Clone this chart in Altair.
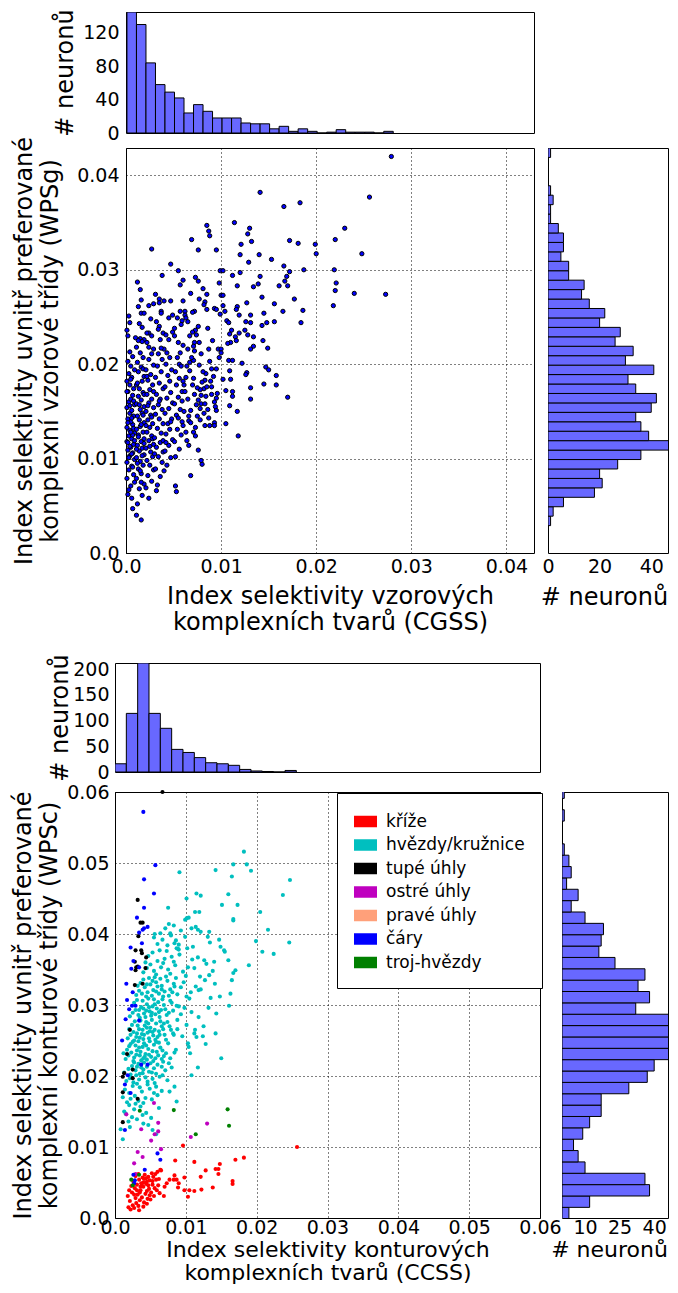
import altair as alt
import pandas as pd

FONT = "DejaVu Sans"
BAR_FILL = "#6868ff"

# ------------------------------------------------------------------ upper figure
# histogram of CGSS (x of upper scatter)
cgss_bin_start = 0.0001
cgss_bin_width = 0.001
cgss_counts = [145, 130, 84, 58, 49, 42, 24, 34, 26, 18, 18, 18, 12, 11, 11, 5, 8, 2,
               5, 2, 0, 1, 4, 1, 1, 1, 0, 2]
# histogram of WPSg (y of upper scatter), from bottom bin upwards
wpsg_bin_start = 0.0029
wpsg_bin_width = 0.001
wpsg_counts = [1, 2, 6, 18, 21, 20, 27, 36, 47, 39, 36, 34, 40, 42, 34, 31, 41, 30, 33,
               26, 28, 20, 22, 16, 13, 14, 8, 8, 5, 6, 6, 4, 1, 1, 2, 1, 0, 0, 0, 1]

# scatter points (CGSS, WPSg)
upper_outer = [(0.0279,0.0420),(0.0256,0.0377),(0.0141,0.0382),(0.0166,0.0367),(0.0183,0.0371),(0.0230,0.0344),(0.0220,0.0332),(0.0172,0.0331),(0.0181,0.0328),(0.0199,0.0327),(0.0200,0.0317),(0.0248,0.0317),(0.0140,0.0316),(0.0153,0.0311),(0.0166,0.0304),(0.0172,0.0298),(0.0187,0.0300),(0.0219,0.0300),(0.0141,0.0293),(0.0169,0.0293),(0.0167,0.0288),(0.0170,0.0283),(0.0161,0.0283),(0.0221,0.0286),(0.0220,0.0278),(0.0240,0.0275),(0.0273,0.0274),(0.0143,0.0271),(0.0177,0.0269),(0.0156,0.0264),(0.0218,0.0262),(0.0165,0.0256),(0.0186,0.0257),(0.0145,0.0254),(0.0156,0.0245),(0.0148,0.0244),(0.0143,0.0241),(0.0184,0.0244),(0.0144,0.0225),(0.0149,0.0217),(0.0147,0.0197),(0.0150,0.0194),(0.0158,0.0188),(0.0145,0.0179),(0.0158,0.0178),(0.0170,0.0165)]
upper_top = [(0.0085,0.0347),(0.0087,0.0341),(0.0088,0.0336),(0.0114,0.0350),(0.0130,0.0344),(0.0128,0.0338),(0.0132,0.0330),(0.0121,0.0327),(0.0069,0.0332),(0.0076,0.0321),(0.0027,0.0322),(0.0095,0.0321),(0.0120,0.0316),(0.0129,0.0308),(0.0047,0.0306),(0.0055,0.0299),(0.0099,0.0299),(0.0102,0.0299),(0.0038,0.0294),(0.0112,0.0294),(0.0120,0.0297),(0.0012,0.0287),(0.0060,0.0289),(0.0057,0.0284),(0.0073,0.0292),(0.0076,0.0288),(0.0098,0.0286),(0.0117,0.0283),(0.0134,0.0282),(0.0139,0.0285),(0.0015,0.0279),(0.0081,0.0280),(0.0031,0.0274),(0.0068,0.0275),(0.0085,0.0274),(0.0100,0.0273),(0.0102,0.0273),(0.0016,0.0268),(0.0035,0.0269),(0.0040,0.0267),(0.0047,0.0267),(0.0060,0.0267),(0.0077,0.0269),(0.0083,0.0266),(0.0082,0.0263),(0.0024,0.0262),(0.0029,0.0264),(0.0035,0.0265),(0.0127,0.0265),(0.0102,0.0262),(0.0117,0.0261),(0.0116,0.0258),(0.0093,0.0259),(0.0095,0.0258),(0.0085,0.0258),(0.0104,0.0256),(0.0037,0.0256),(0.0037,0.0254),(0.0057,0.0256),(0.0062,0.0256),(0.0062,0.0252),(0.0072,0.0256),(0.0070,0.0255),(0.0016,0.0254),(0.0019,0.0254),(0.0099,0.0253),(0.0049,0.0252),(0.0054,0.0249),(0.0119,0.0252),(0.0131,0.0252),(0.0003,0.0251),(0.0004,0.0244),(0.0063,0.0249),(0.0065,0.0245),(0.0106,0.0246),(0.0108,0.0244),(0.0059,0.0246),(0.0058,0.0242),(0.0014,0.0243),(0.0126,0.0245),(0.0131,0.0244),(0.0076,0.0240),(0.0035,0.0240),(0.0034,0.0237),(0.0086,0.0238),(0.0111,0.0236),(0.0109,0.0232),(0.0125,0.0236),(0.0128,0.0231),(0.0073,0.0236),(0.0070,0.0234),(0.0074,0.0231),(0.0039,0.0233),(0.0042,0.0231),(0.0051,0.0230),(0.0045,0.0226)]
upper_mid = [(0.0002,0.0230),(0.0010,0.0228),(0.0015,0.0227),(0.0019,0.0226),(0.0013,0.0225),(0.0017,0.0224),(0.0022,0.0223),(0.0024,0.0233),(0.0027,0.0230),(0.0024,0.0218),(0.0029,0.0216),(0.0115,0.0229),(0.0116,0.0225),(0.0119,0.0233),(0.0110,0.0223),(0.0107,0.0222),(0.0134,0.0229),(0.0134,0.0219),(0.0055,0.0223),(0.0060,0.0220),(0.0072,0.0223),(0.0071,0.0219),(0.0077,0.0223),(0.0087,0.0216),(0.0091,0.0225),(0.0097,0.0216),(0.0100,0.0216),(0.0065,0.0216),(0.0040,0.0216),(0.0037,0.0217),(0.0100,0.0212),(0.0131,0.0216),(0.0071,0.0204),(0.0067,0.0202),(0.0056,0.0200),(0.0108,0.0204),(0.0112,0.0204),(0.0122,0.0201),(0.0127,0.0191),(0.0126,0.0189),(0.0095,0.0195),(0.0109,0.0193),(0.0084,0.0190),(0.0083,0.0183),(0.0089,0.0182),(0.0090,0.0176),(0.0102,0.0184),(0.0110,0.0184),(0.0105,0.0172),(0.0112,0.0171),(0.0112,0.0166),(0.0131,0.0175),(0.0131,0.0163),(0.0072,0.0168),(0.0079,0.0167),(0.0084,0.0166),(0.0095,0.0164),(0.0090,0.0168),(0.0082,0.0174),(0.0078,0.0173),(0.0075,0.0175),(0.0061,0.0178),(0.0063,0.0186),(0.0060,0.0182),(0.0109,0.0156),(0.0117,0.0150),(0.0095,0.0151),(0.0093,0.0160),(0.0079,0.0158),(0.0078,0.0153),(0.0086,0.0152),(0.0082,0.0148),(0.0105,0.0137),(0.0093,0.0138),(0.0093,0.0135),(0.0088,0.0135),(0.0083,0.0135),(0.0078,0.0141),(0.0075,0.0145),(0.0066,0.0140),(0.0068,0.0138),(0.0060,0.0135),(0.0118,0.0124),(0.0076,0.0109),(0.0080,0.0094),(0.0079,0.0098),(0.0066,0.0114),(0.0071,0.0128),(0.0073,0.0124),(0.0068,0.0082),(0.0052,0.0071),(0.0053,0.0065),(0.0032,0.0066),(0.0040,0.0087),(0.0011,0.0040),(0.0016,0.0035),(0.0007,0.0047)]
upper_core_a = [(0.0002,0.0062),(0.0005,0.0071),(0.0001,0.0079),(0.0008,0.0083),(0.0003,0.0088),(0.0006,0.0092),(0.0001,0.0096),(0.0009,0.0099),(0.0004,0.0103),(0.0007,0.0106),(0.0002,0.0109),(0.0005,0.0112),(0.0008,0.0115),(0.0001,0.0118),(0.0006,0.0121),(0.0003,0.0124),(0.0009,0.0127),(0.0004,0.0130),(0.0001,0.0133),(0.0007,0.0136),(0.0005,0.0139),(0.0002,0.0142),(0.0008,0.0145),(0.0004,0.0148),(0.0006,0.0151),(0.0001,0.0154),(0.0009,0.0157),(0.0003,0.0160),(0.0005,0.0163),(0.0007,0.0167),(0.0002,0.0171),(0.0008,0.0174),(0.0004,0.0178),(0.0001,0.0182),(0.0006,0.0186),(0.0003,0.0190),(0.0009,0.0194),(0.0005,0.0198),(0.0002,0.0203),(0.0007,0.0208),(0.0004,0.0213),(0.0001,0.0236),(0.0006,0.0058),(0.0003,0.0067),(0.0009,0.0075),(0.0004,0.0113),(0.0007,0.0125),(0.0002,0.0138),(0.0008,0.0161),(0.0005,0.0184),(0.0003,0.0101),(0.0009,0.0119),(0.0006,0.0143),(0.0001,0.0171),(0.0007,0.0091),(0.0004,0.0156),(0.0008,0.0132),(0.0002,0.0117),(0.0005,0.0128),(0.0006,0.0105)]
upper_core_b = [(0.0012,0.0052),(0.0017,0.0061),(0.0014,0.0068),(0.0019,0.0073),(0.0011,0.0079),(0.0016,0.0084),(0.0013,0.0089),(0.0018,0.0093),(0.0015,0.0097),(0.0011,0.0101),(0.0019,0.0104),(0.0014,0.0108),(0.0017,0.0111),(0.0012,0.0114),(0.0016,0.0118),(0.0019,0.0121),(0.0013,0.0125),(0.0018,0.0128),(0.0011,0.0131),(0.0015,0.0134),(0.0019,0.0138),(0.0014,0.0141),(0.0012,0.0145),(0.0017,0.0148),(0.0015,0.0152),(0.0019,0.0155),(0.0011,0.0158),(0.0016,0.0162),(0.0013,0.0166),(0.0018,0.0170),(0.0014,0.0174),(0.0011,0.0178),(0.0017,0.0182),(0.0019,0.0187),(0.0013,0.0192),(0.0016,0.0197),(0.0012,0.0202),(0.0018,0.0207),(0.0015,0.0212),(0.0011,0.0218),(0.0017,0.0239),(0.0013,0.0261),(0.0019,0.0116),(0.0012,0.0095),(0.0016,0.0136),(0.0014,0.0157),(0.0018,0.0146),(0.0011,0.0110),(0.0019,0.0168),(0.0015,0.0087),(0.0013,0.0123),(0.0017,0.0103),(0.0012,0.0180),(0.0016,0.0075),(0.0018,0.0195)]
upper_core_c = [(0.0024,0.0058),(0.0021,0.0069),(0.0027,0.0076),(0.0023,0.0082),(0.0029,0.0088),(0.0025,0.0093),(0.0022,0.0098),(0.0028,0.0102),(0.0026,0.0107),(0.0021,0.0111),(0.0029,0.0115),(0.0024,0.0119),(0.0027,0.0124),(0.0022,0.0128),(0.0025,0.0133),(0.0028,0.0137),(0.0023,0.0141),(0.0026,0.0146),(0.0021,0.0150),(0.0029,0.0154),(0.0024,0.0159),(0.0027,0.0163),(0.0022,0.0168),(0.0025,0.0173),(0.0028,0.0178),(0.0023,0.0183),(0.0026,0.0189),(0.0021,0.0194),(0.0029,0.0199),(0.0024,0.0205),(0.0027,0.0211),(0.0022,0.0233),(0.0026,0.0248),(0.0028,0.0121),(0.0023,0.0156),(0.0021,0.0135),(0.0027,0.0144),(0.0025,0.0113),(0.0029,0.0171),(0.0022,0.0187),
                (0.0033,0.0072),(0.0036,0.0081),(0.0031,0.0089),(0.0038,0.0096),(0.0034,0.0102),(0.0039,0.0107),(0.0032,0.0112),(0.0036,0.0117),(0.0030,0.0122),(0.0037,0.0127),(0.0033,0.0132),(0.0039,0.0137),(0.0035,0.0142),(0.0031,0.0147),(0.0038,0.0152),(0.0034,0.0157),(0.0036,0.0163),(0.0032,0.0168),(0.0039,0.0174),(0.0035,0.0180),(0.0031,0.0186),(0.0037,0.0192),(0.0033,0.0198),(0.0038,0.0205),(0.0034,0.0211),(0.0036,0.0226),(0.0032,0.0245),(0.0039,0.0119),(0.0035,0.0161),(0.0030,0.0105)]
upper_core_d = [(0.0043,0.0093),(0.0047,0.0101),(0.0041,0.0108),(0.0045,0.0114),(0.0049,0.0120),(0.0042,0.0126),(0.0046,0.0131),(0.0044,0.0137),(0.0048,0.0142),(0.0041,0.0148),(0.0045,0.0153),(0.0049,0.0159),(0.0043,0.0164),(0.0047,0.0170),(0.0041,0.0176),(0.0046,0.0182),(0.0044,0.0188),(0.0048,0.0194),(0.0042,0.0200),(0.0046,0.0207),(0.0043,0.0212),(0.0049,0.0234),(0.0045,0.0249),(0.0047,0.0139),(0.0042,0.0117),
                (0.0052,0.0102),(0.0056,0.0110),(0.0051,0.0118),(0.0058,0.0125),(0.0054,0.0131),(0.0059,0.0139),(0.0053,0.0146),(0.0057,0.0152),(0.0051,0.0158),(0.0055,0.0165),(0.0059,0.0171),(0.0053,0.0178),(0.0056,0.0185),(0.0052,0.0192),(0.0058,0.0198),(0.0054,0.0207),(0.0057,0.0212),(0.0051,0.0238),(0.0055,0.0143),(0.0059,0.0161),
                (0.0063,0.0128),(0.0068,0.0151),(0.0065,0.0163),(0.0071,0.0185),(0.0067,0.0193),(0.0074,0.0157),(0.0062,0.0171),(0.0069,0.0207),(0.0077,0.0199),(0.0081,0.0192),(0.0066,0.0145),(0.0073,0.0133),(0.0085,0.0176),(0.0088,0.0203),(0.0092,0.0187),(0.0079,0.0211),(0.0064,0.0198),(0.0096,0.0169),(0.0061,0.0150),(0.0070,0.0178),(0.0076,0.0162),(0.0083,0.0158),(0.0090,0.0195),(0.0098,0.0207),(0.0064,0.0119),(0.0087,0.0143),(0.0072,0.0214),(0.0094,0.0155),(0.0080,0.0181),(0.0067,0.0230)]

# ------------------------------------------------------------------ lower figure
ccss_bin_start = 0.0
ccss_bin_width = 0.0016
ccss_counts = [16, 114, 212, 114, 85, 44, 38, 28, 18, 16, 13, 5, 2, 1, 0, 3]
wpsc_bin_start = -0.0001
wpsc_bin_width = 0.0016
wpsc_counts = [3, 12, 38, 36, 10, 7, 5, 9, 12, 17, 17, 29, 37, 40, 47, 48, 47, 48, 32, 38,
               33, 36, 23, 16, 17, 18, 10, 4, 7, 2, 4, 3, 1, 0, 0, 1, 0, 1]

categories = ["kříže", "hvězdy/kružnice", "tupé úhly", "ostré úhly", "pravé úhly", "čáry", "troj-hvězdy"]
cat_colors = ["#ff0000", "#00bfbf", "#000000", "#bf00bf", "#ffa07a", "#0000ff", "#008000"]

krize = [(0.0257,0.0100),(0.0182,0.0085),(0.0170,0.0082),(0.0166,0.0052),(0.0166,0.0048),(0.0148,0.0076),(0.0146,0.0069),(0.0142,0.0069),(0.0146,0.0062),(0.0128,0.0067),(0.0138,0.0043),(0.0121,0.0058),(0.0122,0.0040),(0.0112,0.0079),(0.0112,0.0038),(0.0098,0.0057),(0.0098,0.0039),(0.0103,0.0030),(0.0105,0.0039),(0.0085,0.0081),(0.0084,0.0060),(0.0083,0.0054),(0.0087,0.0054),(0.0090,0.0049),(0.0089,0.0043),(0.0077,0.0054),(0.0073,0.0049),(0.0070,0.0044),(0.0064,0.0068),(0.0060,0.0065),(0.0069,0.0031),(0.0096,0.0102),
         (0.0019,0.0015),(0.0022,0.0012),(0.0025,0.0018),(0.0021,0.0024),(0.0027,0.0014),(0.0030,0.0021),(0.0018,0.0031),(0.0024,0.0036),(0.0029,0.0028),(0.0033,0.0017),(0.0035,0.0025),(0.0032,0.0033),(0.0038,0.0029),(0.0036,0.0039),(0.0041,0.0022),(0.0043,0.0034),(0.0040,0.0044),(0.0046,0.0027),(0.0048,0.0041),(0.0045,0.0051),(0.0051,0.0036),(0.0053,0.0047),(0.0050,0.0026),(0.0056,0.0042),(0.0058,0.0054),(0.0055,0.0031),(0.0061,0.0046),(0.0063,0.0035),(0.0028,0.0042),(0.0031,0.0047),(0.0026,0.0051),(0.0034,0.0054),(0.0037,0.0049),(0.0039,0.0057),(0.0042,0.0061),(0.0044,0.0048),(0.0047,0.0058),(0.0049,0.0053),(0.0052,0.0063),(0.0054,0.0058),(0.0023,0.0045),(0.0020,0.0039),(0.0029,0.0059),(0.0033,0.0062),(0.0036,0.0044),(0.0040,0.0050),(0.0045,0.0038),(0.0049,0.0032),(0.0057,0.0062),(0.0059,0.0039),(0.0035,0.0036),(0.0041,0.0055),(0.0038,0.0046),(0.0044,0.0056),(0.0031,0.0039),(0.0027,0.0033),(0.0047,0.0046),(0.0053,0.0052),(0.0062,0.0055),(0.0065,0.0067),(0.0034,0.0011),(0.0040,0.0016),(0.0045,0.0020)]
hvezdy_outer = [(0.0182,0.0516),(0.0186,0.0498),(0.0192,0.0489),(0.0167,0.0498),(0.0165,0.0481),(0.0173,0.0441),(0.0167,0.0421),(0.0167,0.0419),(0.0091,0.0487),(0.0142,0.0490),(0.0247,0.0476),(0.0237,0.0455),(0.0246,0.0388),(0.0205,0.0431),(0.0216,0.0406),(0.0199,0.0390),(0.0208,0.0375),(0.0224,0.0372),(0.0189,0.0356),(0.0101,0.0450),(0.0115,0.0457),(0.0121,0.0454),(0.0160,0.0456),(0.0151,0.0441),(0.0104,0.0423),(0.0099,0.0420),(0.0113,0.0431),(0.0119,0.0431),(0.0075,0.0437),(0.0056,0.0400),(0.0076,0.0414),(0.0078,0.0401),(0.0084,0.0387),(0.0090,0.0378),(0.0087,0.0380),(0.0101,0.0422),(0.0108,0.0408),(0.0114,0.0410),(0.0117,0.0406),(0.0121,0.0403),(0.0133,0.0403),(0.0131,0.0396),(0.0134,0.0388),(0.0147,0.0392),(0.0149,0.0382),(0.0154,0.0377),(0.0155,0.0375),(0.0160,0.0363),(0.0167,0.0345),(0.0170,0.0349),(0.0165,0.0335),(0.0163,0.0316),(0.0161,0.0299),(0.0143,0.0288),(0.0142,0.0260),(0.0150,0.0225),(0.0124,0.0256),(0.0115,0.0255),(0.0112,0.0260),(0.0101,0.0272),(0.0103,0.0246),(0.0104,0.0241),(0.0108,0.0201),(0.0101,0.0312),(0.0105,0.0309),(0.0114,0.0326),(0.0118,0.0321),(0.0121,0.0322),(0.0127,0.0335),(0.0133,0.0342),(0.0138,0.0348),(0.0140,0.0361),(0.0126,0.0363),(0.0117,0.0367),(0.0110,0.0382),(0.0102,0.0380),(0.0084,0.0326),(0.0090,0.0298),(0.0088,0.0279),(0.0082,0.0260),(0.0095,0.0256),(0.0086,0.0237),(0.0076,0.0218),(0.0067,0.0201),(0.0084,0.0185),(0.0087,0.0164),(0.0077,0.0178),(0.0060,0.0173),(0.0053,0.0124),(0.0058,0.0118),(0.0040,0.0133),(0.0008,0.0125),(0.0011,0.0111),(0.0015,0.0147),(0.0020,0.0159),
                (0.0118,0.0283),(0.0125,0.0270),(0.0132,0.0296),(0.0108,0.0290),(0.0113,0.0265),(0.0128,0.0245),(0.0135,0.0310),(0.0107,0.0318),(0.0120,0.0340),(0.0112,0.0352),(0.0129,0.0358),(0.0141,0.0330),(0.0148,0.0312),(0.0106,0.0232),(0.0117,0.0212)]
hvezdy_low = [(0.0019,0.0136),(0.0024,0.0142),(0.0031,0.0139),(0.0044,0.0148),(0.0051,0.0141),(0.0027,0.0153),(0.0036,0.0157),(0.0013,0.0150),(0.0062,0.0155),(0.0047,0.0131),(0.0021,0.0128),(0.0039,0.0145),
              (0.0017,0.0163),(0.0022,0.0168),(0.0028,0.0172),(0.0033,0.0165),(0.0038,0.0178),(0.0043,0.0169),(0.0049,0.0182),(0.0055,0.0176),(0.0014,0.0181),(0.0025,0.0186),(0.0031,0.0189),(0.0046,0.0188),(0.0058,0.0185),(0.0066,0.0179),(0.0035,0.0184),(0.0020,0.0176),(0.0040,0.0162),(0.0052,0.0167),(0.0029,0.0161),(0.0011,0.0170),
              (0.0016,0.0193),(0.0021,0.0197),(0.0026,0.0191),(0.0030,0.0201),(0.0034,0.0195),(0.0039,0.0204),(0.0043,0.0198),(0.0048,0.0206),(0.0053,0.0196),(0.0058,0.0203),(0.0063,0.0199),(0.0071,0.0208),(0.0019,0.0210),(0.0024,0.0214),(0.0029,0.0208),(0.0033,0.0217),(0.0037,0.0212),(0.0041,0.0219),(0.0045,0.0213),(0.0050,0.0218),(0.0055,0.0211),(0.0060,0.0216),(0.0066,0.0213),(0.0074,0.0194),(0.0013,0.0205),(0.0027,0.0219),(0.0035,0.0203),(0.0046,0.0192),(0.0056,0.0190),(0.0040,0.0209),(0.0022,0.0202),(0.0031,0.0213),(0.0052,0.0205),(0.0068,0.0220),(0.0080,0.0212)]
hvezdy_mid = [(0.0015,0.0224),(0.0019,0.0229),(0.0023,0.0233),(0.0027,0.0226),(0.0031,0.0236),(0.0035,0.0229),(0.0039,0.0241),(0.0043,0.0231),(0.0047,0.0238),(0.0051,0.0227),(0.0055,0.0244),(0.0059,0.0234),(0.0064,0.0240),(0.0069,0.0228),(0.0075,0.0246),(0.0020,0.0242),(0.0025,0.0248),(0.0029,0.0243),(0.0033,0.0249),(0.0037,0.0222),(0.0041,0.0246),(0.0045,0.0223),(0.0049,0.0249),(0.0053,0.0235),(0.0057,0.0225),(0.0062,0.0247),(0.0067,0.0236),(0.0072,0.0232),(0.0078,0.0225),(0.0017,0.0237),(0.0026,0.0221),(0.0034,0.0240),(0.0042,0.0227),(0.0048,0.0230),(0.0054,0.0221),(0.0061,0.0229),(0.0036,0.0234),(0.0044,0.0243),(0.0030,0.0230),(0.0022,0.0245),(0.0058,0.0248),(0.0066,0.0224),(0.0084,0.0233),(0.0012,0.0232),(0.0040,0.0225),
              (0.0018,0.0253),(0.0022,0.0258),(0.0026,0.0262),(0.0030,0.0255),(0.0034,0.0266),(0.0038,0.0259),(0.0042,0.0271),(0.0046,0.0261),(0.0050,0.0268),(0.0054,0.0257),(0.0058,0.0274),(0.0062,0.0263),(0.0066,0.0270),(0.0070,0.0258),(0.0074,0.0276),(0.0079,0.0265),(0.0024,0.0272),(0.0028,0.0277),(0.0032,0.0271),(0.0036,0.0278),(0.0040,0.0252),(0.0044,0.0276),(0.0048,0.0253),(0.0052,0.0279),(0.0056,0.0265),(0.0060,0.0255),(0.0064,0.0277),(0.0068,0.0266),(0.0072,0.0251),(0.0077,0.0270),(0.0083,0.0258),(0.0088,0.0266),(0.0020,0.0266),(0.0035,0.0254),(0.0045,0.0268),(0.0053,0.0262),(0.0039,0.0265),(0.0047,0.0274),(0.0057,0.0251),(0.0063,0.0258),(0.0031,0.0260),(0.0041,0.0258),(0.0049,0.0263),(0.0027,0.0250),(0.0069,0.0274)]
hvezdy_high = [(0.0021,0.0284),(0.0025,0.0289),(0.0029,0.0293),(0.0033,0.0286),(0.0037,0.0297),(0.0041,0.0288),(0.0045,0.0301),(0.0049,0.0291),(0.0053,0.0298),(0.0057,0.0287),(0.0061,0.0304),(0.0065,0.0293),(0.0069,0.0300),(0.0073,0.0286),(0.0078,0.0306),(0.0082,0.0292),(0.0087,0.0299),(0.0027,0.0303),(0.0031,0.0307),(0.0035,0.0282),(0.0039,0.0306),(0.0043,0.0283),(0.0047,0.0309),(0.0051,0.0285),(0.0055,0.0308),(0.0059,0.0295),(0.0063,0.0283),(0.0067,0.0308),(0.0071,0.0294),(0.0076,0.0289),(0.0080,0.0303),(0.0093,0.0287),(0.0098,0.0296),(0.0040,0.0295),(0.0048,0.0297),(0.0056,0.0301),(0.0062,0.0290),(0.0034,0.0293),(0.0044,0.0292),(0.0052,0.0289),
               (0.0030,0.0314),(0.0034,0.0320),(0.0038,0.0316),(0.0042,0.0325),(0.0046,0.0318),(0.0050,0.0329),(0.0054,0.0321),(0.0058,0.0332),(0.0062,0.0316),(0.0066,0.0327),(0.0070,0.0319),(0.0074,0.0334),(0.0078,0.0322),(0.0083,0.0330),(0.0088,0.0315),(0.0093,0.0325),(0.0036,0.0331),(0.0040,0.0336),(0.0044,0.0312),(0.0048,0.0338),(0.0052,0.0313),(0.0056,0.0339),(0.0060,0.0326),(0.0064,0.0337),(0.0068,0.0312),(0.0072,0.0340),(0.0076,0.0313),(0.0081,0.0318),(0.0086,0.0338),(0.0097,0.0332),(0.0032,0.0327),(0.0058,0.0319),(0.0066,0.0322),(0.0053,0.0334),(0.0045,0.0329),
               (0.0040,0.0346),(0.0045,0.0352),(0.0050,0.0357),(0.0055,0.0348),(0.0060,0.0362),(0.0065,0.0353),(0.0070,0.0365),(0.0075,0.0350),(0.0080,0.0368),(0.0085,0.0356),(0.0091,0.0371),(0.0096,0.0347),(0.0047,0.0369),(0.0053,0.0374),(0.0058,0.0343),(0.0063,0.0377),(0.0068,0.0359),(0.0073,0.0376),(0.0078,0.0344),(0.0083,0.0361),(0.0089,0.0379),(0.0103,0.0353),(0.0109,0.0364),(0.0043,0.0360),(0.0100,0.0341),
               (0.0060,0.0386),(0.0067,0.0392),(0.0074,0.0384),(0.0079,0.0398),(0.0086,0.0391),(0.0093,0.0405),(0.0099,0.0396),(0.0071,0.0408),(0.0064,0.0401),(0.0083,0.0412),(0.0055,0.0395),(0.0090,0.0385)]
tupe = [(0.0067,0.0600),(0.0032,0.0448),(0.0036,0.0416),(0.0039,0.0416),(0.0033,0.0397),(0.0029,0.0377),(0.0038,0.0373),(0.0037,0.0377),(0.0044,0.0367),(0.0028,0.0361),(0.0030,0.0353),(0.0029,0.0349),(0.0032,0.0354),(0.0028,0.0328),(0.0039,0.0330),(0.0043,0.0352),(0.0021,0.0265),(0.0017,0.0231),(0.0013,0.0204),(0.0011,0.0199),(0.0025,0.0209),(0.0025,0.0197),(0.0011,0.0177),(0.0011,0.0135),(0.0032,0.0168)]
ostre = [(0.0055,0.0162),(0.0016,0.0146),(0.0061,0.0134),(0.0061,0.0122),(0.0056,0.0118),(0.0037,0.0125),(0.0051,0.0109),(0.0130,0.0133),(0.0107,0.0114),(0.0032,0.0093),(0.0039,0.0086),(0.0065,0.0097),(0.0027,0.0077),(0.0029,0.0062)]
prave = []
cary = [(0.0040,0.0572),(0.0057,0.0497),(0.0041,0.0477),(0.0055,0.0457),(0.0041,0.0437),(0.0031,0.0423),(0.0034,0.0402),(0.0039,0.0406),(0.0041,0.0408),(0.0046,0.0410),(0.0038,0.0387),(0.0022,0.0381),(0.0026,0.0362),(0.0023,0.0351),(0.0034,0.0353),(0.0016,0.0330),(0.0025,0.0318),(0.0017,0.0307),(0.0020,0.0294),(0.0024,0.0299),(0.0029,0.0299),(0.0015,0.0280),(0.0034,0.0278),(0.0010,0.0250),(0.0037,0.0216),(0.0046,0.0216),(0.0018,0.0201),(0.0014,0.0188),(0.0022,0.0176),(0.0014,0.0124),(0.0060,0.0091),(0.0064,0.0082),(0.0042,0.0068),(0.0026,0.0061),(0.0028,0.0053),(0.0027,0.0049)]
troj = [(0.0035,0.0151),(0.0083,0.0152),(0.0159,0.0153),(0.0161,0.0130),(0.0114,0.0118),(0.0023,0.0054),(0.0025,0.0046),(0.0034,0.0061)]

# ------------------------------------------------------------------ data frames
def hist_df(start, width, counts):
    lo = [start + i * width for i in range(len(counts))]
    return pd.DataFrame({"lo": lo, "hi": [v + width for v in lo], "n": counts,
                         "z": [0] * len(counts)})

upper_pts = upper_outer + upper_top + upper_mid + upper_core_a + upper_core_b + upper_core_c + upper_core_d
upper_df = pd.DataFrame(upper_pts, columns=["x", "y"])

groups = [("kříže", krize), ("hvězdy/kružnice", hvezdy_outer + hvezdy_low + hvezdy_mid + hvezdy_high),
          ("tupé úhly", tupe), ("ostré úhly", ostre), ("pravé úhly", prave), ("čáry", cary),
          ("troj-hvězdy", troj)]
rows = []
for order, (name, pts) in enumerate(groups):
    for (px, py) in pts:
        rows.append({"x": px, "y": py, "cat": name, "o": order})
lower_df = pd.DataFrame(rows)

LBL = 19
TTL = 24
lbl_expr = "datum.value == 0 ? '0.0' : format(datum.value, '.2f')"
noview = alt.ViewBackground(strokeOpacity=0)

def top_hist(df, xdom, ydom, yticks, w, h, lpad, tpad):
    return alt.Chart(df).mark_rect(fill=BAR_FILL, stroke="black", strokeWidth=1, clip=True).encode(
        x=alt.X("lo:Q", scale=alt.Scale(domain=xdom, nice=False, zero=False), axis=None),
        x2="hi:Q",
        y=alt.Y("n:Q", scale=alt.Scale(domain=ydom, nice=False),
                axis=alt.Axis(values=yticks, title="# neuronů", grid=False, labelPadding=lpad,
                              titlePadding=tpad)),
        y2="z:Q",
    ).properties(width=w, height=h)

def right_hist(df, ydom, xdom, xticks, w, h, lpad, tpad, tsize, tx):
    return alt.Chart(df).mark_rect(fill=BAR_FILL, stroke="black", strokeWidth=1, clip=True).encode(
        y=alt.Y("lo:Q", scale=alt.Scale(domain=ydom, nice=False, zero=False), axis=None),
        y2="hi:Q",
        x=alt.X("n:Q", scale=alt.Scale(domain=xdom, nice=False),
                axis=alt.Axis(values=xticks, title="# neuronů", grid=False, labelPadding=lpad,
                              titlePadding=tpad, labelFlush=False, titleFontSize=tsize,
                              titleX=tx)),
        x2="z:Q",
    ).properties(width=w, height=h)

# upper figure
D1 = 0.0429
th1 = top_hist(hist_df(cgss_bin_start, cgss_bin_width, cgss_counts), [0, D1], [0, 145],
               [0, 40, 80, 120], 408, 121, 7, 5)
sc1 = alt.Chart(upper_df).mark_point(filled=True, shape="circle", size=18, fill="#0000ff",
                                     stroke="black", strokeWidth=1, opacity=1).encode(
    x=alt.X("x:Q", scale=alt.Scale(domain=[0, D1], nice=False),
            axis=alt.Axis(values=[0, 0.01, 0.02, 0.03, 0.04], labelExpr=lbl_expr, labelFlush=False,
                          title=["Index selektivity vzorových", "komplexních tvarů (CGSS)"],
                          labelPadding=4, titlePadding=8)),
    y=alt.Y("y:Q", scale=alt.Scale(domain=[0, D1], nice=False),
            axis=alt.Axis(values=[0, 0.01, 0.02, 0.03, 0.04], labelExpr=lbl_expr, labelFlush=False,
                          title=["Index selektivity uvnitř preferované", "komplexní vzorové třídy (WPSg)"],
                          labelPadding=7, titlePadding=14)),
).properties(width=408, height=405)
rh1 = right_hist(hist_df(wpsg_bin_start, wpsg_bin_width, wpsg_counts), [0, D1], [0, 46.5],
                 [0, 20, 40], 120, 405, 4, 9, 24, 56)

# lower figure
D2 = 0.06
th2 = top_hist(hist_df(ccss_bin_start, ccss_bin_width, ccss_counts), [0, D2], [0, 212],
               [0, 50, 100, 150, 200], 425, 109, 6, 0)
sc2 = alt.Chart(lower_df).mark_circle(size=17, opacity=1).encode(
    x=alt.X("x:Q", scale=alt.Scale(domain=[0, D2], nice=False),
            axis=alt.Axis(values=[0, 0.01, 0.02, 0.03, 0.04, 0.05, 0.06], labelExpr=lbl_expr,
                          labelFlush=False,
                          title=["Index selektivity konturových", "komplexních tvarů (CCSS)"],
                          labelPadding=0, titlePadding=2, titleFontSize=22, titleLineHeight=23)),
    y=alt.Y("y:Q", scale=alt.Scale(domain=[0, D2], nice=False),
            axis=alt.Axis(values=[0, 0.01, 0.02, 0.03, 0.04, 0.05, 0.06], labelExpr=lbl_expr,
                          labelFlush=False,
                          title=["Index selektivity uvnitř preferované", "komplexní konturové třídy (WPSc)"],
                          labelPadding=6, titlePadding=5)),
    color=alt.Color("cat:N", scale=alt.Scale(domain=categories, range=cat_colors),
                    legend=alt.Legend(orient="none", legendX=222, legendY=781, title=None,
                                      symbolType="M-1,-0.5H1V0.5H-1Z", symbolSize=529,
                                      symbolStrokeWidth=0, symbolOpacity=1, labelFontSize=17,
                                      labelFont=FONT, labelColor="black", padding=17,
                                      strokeColor="black", fillColor="white", rowPadding=3.5,
                                      labelOffset=9, labelLimit=300)),
    order=alt.Order("o:Q"),
).properties(width=425, height=426)
rh2 = right_hist(hist_df(wpsc_bin_start, wpsc_bin_width, wpsc_counts), [0, D2], [0, 46],
                 [10, 25, 40], 106, 426, 0, 2, 22, 47)

spacer = alt.Chart(pd.DataFrame({"v": [0]})).mark_point(opacity=0, size=0).encode(
    x=alt.X("v:Q", axis=None), y=alt.Y("v:Q", axis=None)
).properties(width=11, height=1, view=noview)

block1 = alt.vconcat(th1, alt.hconcat(sc1, rh1, spacing=14, bounds="flush"), spacing=15, bounds="flush")
row1 = alt.hconcat(spacer, block1, spacing=0, bounds="flush")
block2 = alt.vconcat(th2, alt.hconcat(sc2, rh2, spacing=22, bounds="flush"), spacing=20, bounds="flush")

# fixed page geometry: svg 662 x 1277 so that the page is exactly 678 x 1293
PAD_L, PAD_T, SVG_W, SVG_H = 107, 4, 662, 1277
chart = alt.vconcat(row1, block2, spacing=18).properties(
    autosize=alt.AutoSizeParams(type="none"),
    padding={"left": PAD_L, "top": PAD_T, "right": SVG_W - PAD_L, "bottom": SVG_H - PAD_T},
    background="white",
).configure_view(stroke="black", strokeWidth=1).configure_axis(
    labelFont=FONT, titleFont=FONT, labelFontSize=LBL, titleFontSize=TTL, labelColor="black",
    titleColor="black", titleFontWeight="normal", domain=False, ticks=False,
    gridColor="black", gridDash=[1, 3], gridOpacity=1, gridWidth=1, titleLineHeight=26,
)

chart.save("out.html", embed_options={"renderer": "svg", "actions": False})
